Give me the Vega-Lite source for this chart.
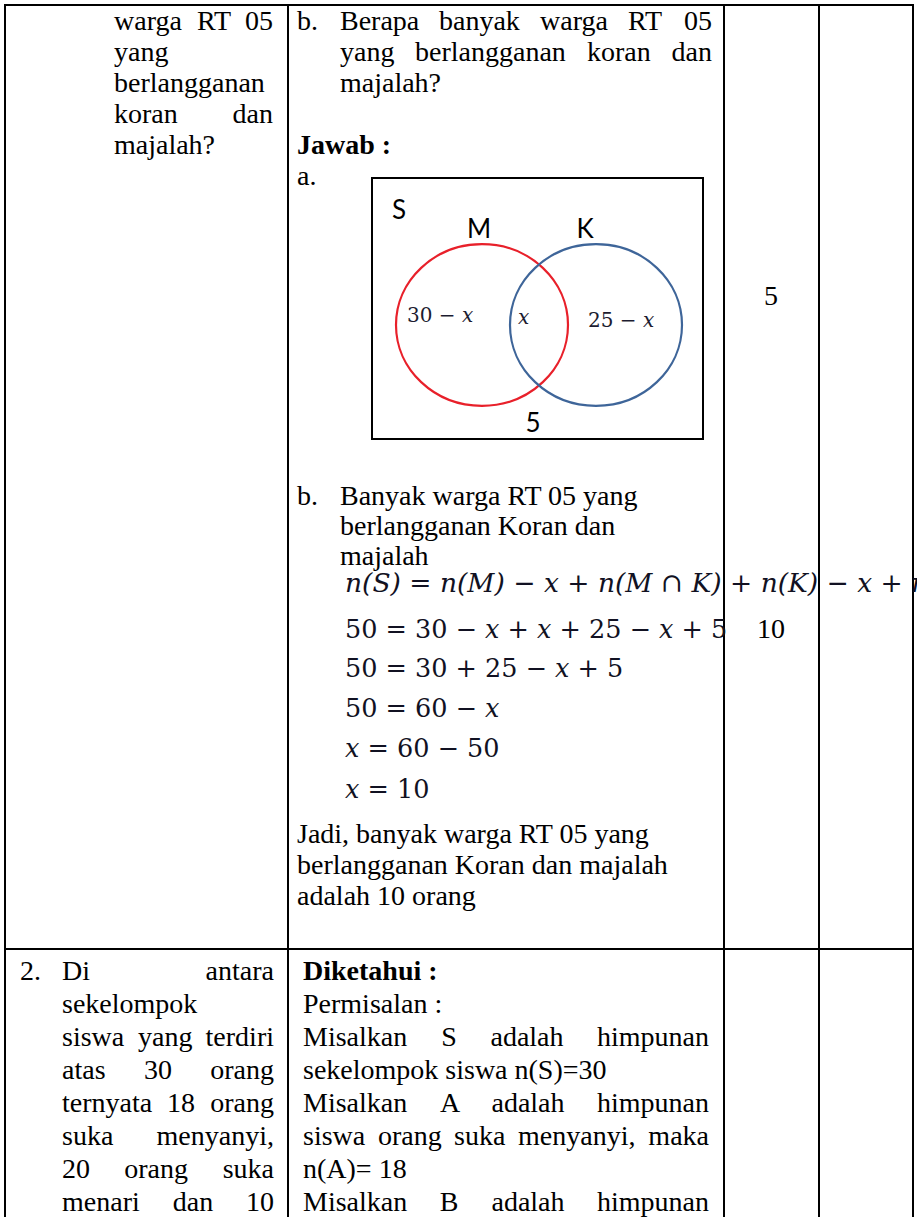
{
  "$schema": "https://vega.github.io/schema/vega-lite/v6.json",
  "width": 917,
  "height": 1217,
  "autosize": "none",
  "padding": 0,
  "background": "white",
  "config": {"view": {"stroke": null}},
  "datasets": {
    "lines": [
      {"x": 4, "y": 5, "x2": 913, "y2": 5},
      {"x": 5, "y": 4, "x2": 5, "y2": 1217},
      {"x": 288, "y": 4, "x2": 288, "y2": 1217},
      {"x": 724, "y": 4, "x2": 724, "y2": 1217},
      {"x": 819, "y": 4, "x2": 819, "y2": 1217},
      {"x": 913, "y": 4, "x2": 913, "y2": 1217},
      {"x": 4, "y": 949, "x2": 913, "y2": 949}
    ],
    "box": [{"x": 372, "y": 178, "x2": 703, "y2": 439}],
    "sets": [
      {"set": "M", "x": 482, "y": 325},
      {"set": "K", "x": 596, "y": 325}
    ],
    "texts": [
      {"t": "warga", "x": 114, "y": 30, "s": "body", "a": "start"},
      {"t": "RT", "x": 214, "y": 30, "s": "body", "a": "middle"},
      {"t": "05", "x": 273, "y": 30, "s": "body", "a": "end"},
      {"t": "yang", "x": 114, "y": 61, "s": "body", "a": "start"},
      {"t": "berlangganan", "x": 114, "y": 92, "s": "body", "a": "start"},
      {"t": "koran", "x": 114, "y": 123, "s": "body", "a": "start"},
      {"t": "dan", "x": 273, "y": 123, "s": "body", "a": "end"},
      {"t": "majalah?", "x": 114, "y": 154, "s": "body", "a": "start"},
      {"t": "b.", "x": 297, "y": 30, "s": "body", "a": "start"},
      {"t": "Berapa", "x": 340, "y": 30, "s": "body", "a": "start"},
      {"t": "banyak", "x": 439, "y": 30, "s": "body", "a": "start"},
      {"t": "warga", "x": 540, "y": 30, "s": "body", "a": "start"},
      {"t": "RT", "x": 628, "y": 30, "s": "body", "a": "start"},
      {"t": "05", "x": 712, "y": 30, "s": "body", "a": "end"},
      {"t": "yang", "x": 340, "y": 61, "s": "body", "a": "start"},
      {"t": "berlangganan", "x": 415, "y": 61, "s": "body", "a": "start"},
      {"t": "koran", "x": 587, "y": 61, "s": "body", "a": "start"},
      {"t": "dan", "x": 712, "y": 61, "s": "body", "a": "end"},
      {"t": "majalah?", "x": 340, "y": 92, "s": "body", "a": "start"},
      {"t": "Jawab :", "x": 297, "y": 154, "s": "bold", "a": "start"},
      {"t": "a.", "x": 297, "y": 185, "s": "body", "a": "start"},
      {"t": "S", "x": 399, "y": 219, "s": "label", "a": "middle"},
      {"t": "M", "x": 479, "y": 238, "s": "label", "a": "middle"},
      {"t": "K", "x": 585, "y": 238, "s": "label", "a": "middle"},
      {"t": "5", "x": 533, "y": 432, "s": "label", "a": "middle"},
      {"t": "30 − 𝑥", "x": 407, "y": 322, "s": "venn", "a": "start"},
      {"t": "𝑥", "x": 518, "y": 324, "s": "venn", "a": "start"},
      {"t": "25 − 𝑥", "x": 588, "y": 327, "s": "venn", "a": "start"},
      {"t": "5", "x": 771, "y": 305, "s": "body", "a": "middle"},
      {"t": "b.", "x": 297, "y": 505, "s": "body", "a": "start"},
      {"t": "Banyak warga RT 05 yang", "x": 340, "y": 505, "s": "body", "a": "start"},
      {"t": "berlangganan Koran dan", "x": 340, "y": 535, "s": "body", "a": "start"},
      {"t": "majalah", "x": 340, "y": 565, "s": "body", "a": "start"},
      {"t": "n(S) = n(M) − x + n(M ∩ K) + n(K) − x + n(M ∪ K)′", "x": 345, "y": 592, "s": "mathit", "a": "start"},
      {"t": "50 = 30 − 𝑥 + 𝑥 + 25 − 𝑥 + 5", "x": 345, "y": 638, "s": "math", "a": "start"},
      {"t": "50 = 30 + 25 − 𝑥 + 5", "x": 345, "y": 677, "s": "math", "a": "start"},
      {"t": "50 = 60 − 𝑥", "x": 345, "y": 717, "s": "math", "a": "start"},
      {"t": "𝑥 = 60 − 50", "x": 345, "y": 757, "s": "math", "a": "start"},
      {"t": "𝑥 = 10", "x": 345, "y": 798, "s": "math", "a": "start"},
      {"t": "10", "x": 771, "y": 638, "s": "body", "a": "middle"},
      {"t": "Jadi, banyak warga RT 05 yang", "x": 297, "y": 843, "s": "body", "a": "start"},
      {"t": "berlangganan Koran dan majalah", "x": 297, "y": 874, "s": "body", "a": "start"},
      {"t": "adalah 10 orang", "x": 297, "y": 905, "s": "body", "a": "start"},
      {"t": "2.", "x": 20, "y": 980, "s": "body", "a": "start"},
      {"t": "Di", "x": 62, "y": 980, "s": "body", "a": "start"},
      {"t": "antara", "x": 274, "y": 980, "s": "body", "a": "end"},
      {"t": "sekelompok", "x": 62, "y": 1013, "s": "body", "a": "start"},
      {"t": "siswa", "x": 62, "y": 1046, "s": "body", "a": "start"},
      {"t": "yang", "x": 138, "y": 1046, "s": "body", "a": "start"},
      {"t": "terdiri", "x": 274, "y": 1046, "s": "body", "a": "end"},
      {"t": "atas", "x": 62, "y": 1079, "s": "body", "a": "start"},
      {"t": "30", "x": 158, "y": 1079, "s": "body", "a": "middle"},
      {"t": "orang", "x": 274, "y": 1079, "s": "body", "a": "end"},
      {"t": "ternyata", "x": 62, "y": 1112, "s": "body", "a": "start"},
      {"t": "18", "x": 167, "y": 1112, "s": "body", "a": "start"},
      {"t": "orang", "x": 274, "y": 1112, "s": "body", "a": "end"},
      {"t": "suka", "x": 62, "y": 1145, "s": "body", "a": "start"},
      {"t": "menyanyi,", "x": 274, "y": 1145, "s": "body", "a": "end"},
      {"t": "20", "x": 62, "y": 1178, "s": "body", "a": "start"},
      {"t": "orang", "x": 156, "y": 1178, "s": "body", "a": "middle"},
      {"t": "suka", "x": 274, "y": 1178, "s": "body", "a": "end"},
      {"t": "menari", "x": 62, "y": 1211, "s": "body", "a": "start"},
      {"t": "dan", "x": 193, "y": 1211, "s": "body", "a": "middle"},
      {"t": "10", "x": 274, "y": 1211, "s": "body", "a": "end"},
      {"t": "Diketahui :", "x": 303, "y": 980, "s": "bold", "a": "start"},
      {"t": "Permisalan :", "x": 303, "y": 1013, "s": "body", "a": "start"},
      {"t": "Misalkan", "x": 303, "y": 1046, "s": "body", "a": "start"},
      {"t": "S", "x": 449, "y": 1046, "s": "body", "a": "middle"},
      {"t": "adalah", "x": 527, "y": 1046, "s": "body", "a": "middle"},
      {"t": "himpunan", "x": 709, "y": 1046, "s": "body", "a": "end"},
      {"t": "sekelompok siswa n(S)=30", "x": 303, "y": 1079, "s": "body", "a": "start"},
      {"t": "Misalkan", "x": 303, "y": 1112, "s": "body", "a": "start"},
      {"t": "A", "x": 450, "y": 1112, "s": "body", "a": "middle"},
      {"t": "adalah", "x": 528, "y": 1112, "s": "body", "a": "middle"},
      {"t": "himpunan", "x": 709, "y": 1112, "s": "body", "a": "end"},
      {"t": "siswa", "x": 303, "y": 1145, "s": "body", "a": "start"},
      {"t": "orang", "x": 378, "y": 1145, "s": "body", "a": "start"},
      {"t": "suka", "x": 454, "y": 1145, "s": "body", "a": "start"},
      {"t": "menyanyi,", "x": 518, "y": 1145, "s": "body", "a": "start"},
      {"t": "maka", "x": 709, "y": 1145, "s": "body", "a": "end"},
      {"t": "n(A)= 18", "x": 303, "y": 1178, "s": "body", "a": "start"},
      {"t": "Misalkan", "x": 303, "y": 1211, "s": "body", "a": "start"},
      {"t": "B", "x": 449, "y": 1211, "s": "body", "a": "middle"},
      {"t": "adalah", "x": 528, "y": 1211, "s": "body", "a": "middle"},
      {"t": "himpunan", "x": 709, "y": 1211, "s": "body", "a": "end"}
    ]
  },
  "layer": [
    {
      "data": {"name": "lines"},
      "mark": {"type": "rule", "color": "black", "strokeWidth": 2},
      "encoding": {
        "x": {"field": "x", "type": "quantitative", "scale": {"domain": [0, 917], "nice": false, "zero": false}, "axis": null},
        "x2": {"field": "x2"},
        "y": {"field": "y", "type": "quantitative", "scale": {"domain": [0, 1217], "nice": false, "zero": false, "reverse": true}, "axis": null},
        "y2": {"field": "y2"}
      }
    },
    {
      "data": {"name": "box"},
      "mark": {"type": "rect", "fill": "transparent", "stroke": "black", "strokeWidth": 2},
      "encoding": {
        "x": {"field": "x", "type": "quantitative", "axis": null},
        "x2": {"field": "x2"},
        "y": {"field": "y", "type": "quantitative", "axis": null},
        "y2": {"field": "y2"}
      }
    },
    {
      "data": {"name": "sets"},
      "mark": {"type": "point", "filled": false, "strokeWidth": 2.2, "opacity": 1, "size": 29584, "shape": "M -1 0 A 1 0.94 0 1 1 1 0 A 1 0.94 0 1 1 -1 0 Z"},
      "encoding": {
        "x": {"field": "x", "type": "quantitative", "axis": null},
        "y": {"field": "y", "type": "quantitative", "axis": null},
        "color": {"field": "set", "type": "nominal", "scale": {"domain": ["M", "K"], "range": ["#e8202a", "#3e6599"]}, "legend": null}
      }
    },
    {
      "data": {"name": "texts"},
      "transform": [{"filter": "datum.s == 'body' && datum.a == 'start'"}],
      "mark": {"type": "text", "font": "Liberation Serif", "fontSize": 28, "align": "left", "baseline": "alphabetic", "color": "black"},
      "encoding": {
        "x": {"field": "x", "type": "quantitative", "axis": null},
        "y": {"field": "y", "type": "quantitative", "axis": null},
        "text": {"field": "t"}
      }
    },
    {
      "data": {"name": "texts"},
      "transform": [{"filter": "datum.s == 'body' && datum.a == 'middle'"}],
      "mark": {"type": "text", "font": "Liberation Serif", "fontSize": 28, "align": "center", "baseline": "alphabetic", "color": "black"},
      "encoding": {
        "x": {"field": "x", "type": "quantitative", "axis": null},
        "y": {"field": "y", "type": "quantitative", "axis": null},
        "text": {"field": "t"}
      }
    },
    {
      "data": {"name": "texts"},
      "transform": [{"filter": "datum.s == 'body' && datum.a == 'end'"}],
      "mark": {"type": "text", "font": "Liberation Serif", "fontSize": 28, "align": "right", "baseline": "alphabetic", "color": "black"},
      "encoding": {
        "x": {"field": "x", "type": "quantitative", "axis": null},
        "y": {"field": "y", "type": "quantitative", "axis": null},
        "text": {"field": "t"}
      }
    },
    {
      "data": {"name": "texts"},
      "transform": [{"filter": "datum.s == 'bold'"}],
      "mark": {"type": "text", "font": "Liberation Serif", "fontSize": 28, "fontWeight": "bold", "align": "left", "baseline": "alphabetic", "color": "black"},
      "encoding": {
        "x": {"field": "x", "type": "quantitative", "axis": null},
        "y": {"field": "y", "type": "quantitative", "axis": null},
        "text": {"field": "t"}
      }
    },
    {
      "data": {"name": "texts"},
      "transform": [{"filter": "datum.s == 'math'"}],
      "mark": {"type": "text", "font": "DejaVu Serif", "fontSize": 25.5, "align": "left", "baseline": "alphabetic", "color": "#111122"},
      "encoding": {
        "x": {"field": "x", "type": "quantitative", "axis": null},
        "y": {"field": "y", "type": "quantitative", "axis": null},
        "text": {"field": "t"}
      }
    },
    {
      "data": {"name": "texts"},
      "transform": [{"filter": "datum.s == 'mathit'"}],
      "mark": {"type": "text", "font": "DejaVu Serif", "fontSize": 26.5, "fontStyle": "italic", "align": "left", "baseline": "alphabetic", "color": "#111122"},
      "encoding": {
        "x": {"field": "x", "type": "quantitative", "axis": null},
        "y": {"field": "y", "type": "quantitative", "axis": null},
        "text": {"field": "t"}
      }
    },
    {
      "data": {"name": "texts"},
      "transform": [{"filter": "datum.s == 'venn'"}],
      "mark": {"type": "text", "font": "DejaVu Serif", "fontSize": 20, "align": "left", "baseline": "alphabetic", "color": "#1c1c30"},
      "encoding": {
        "x": {"field": "x", "type": "quantitative", "axis": null},
        "y": {"field": "y", "type": "quantitative", "axis": null},
        "text": {"field": "t"}
      }
    },
    {
      "data": {"name": "texts"},
      "transform": [{"filter": "datum.s == 'label'"}],
      "mark": {"type": "text", "font": "Lato", "fontSize": 26, "align": "center", "baseline": "alphabetic", "color": "black"},
      "encoding": {
        "x": {"field": "x", "type": "quantitative", "axis": null},
        "y": {"field": "y", "type": "quantitative", "axis": null},
        "text": {"field": "t"}
      }
    }
  ]
}
